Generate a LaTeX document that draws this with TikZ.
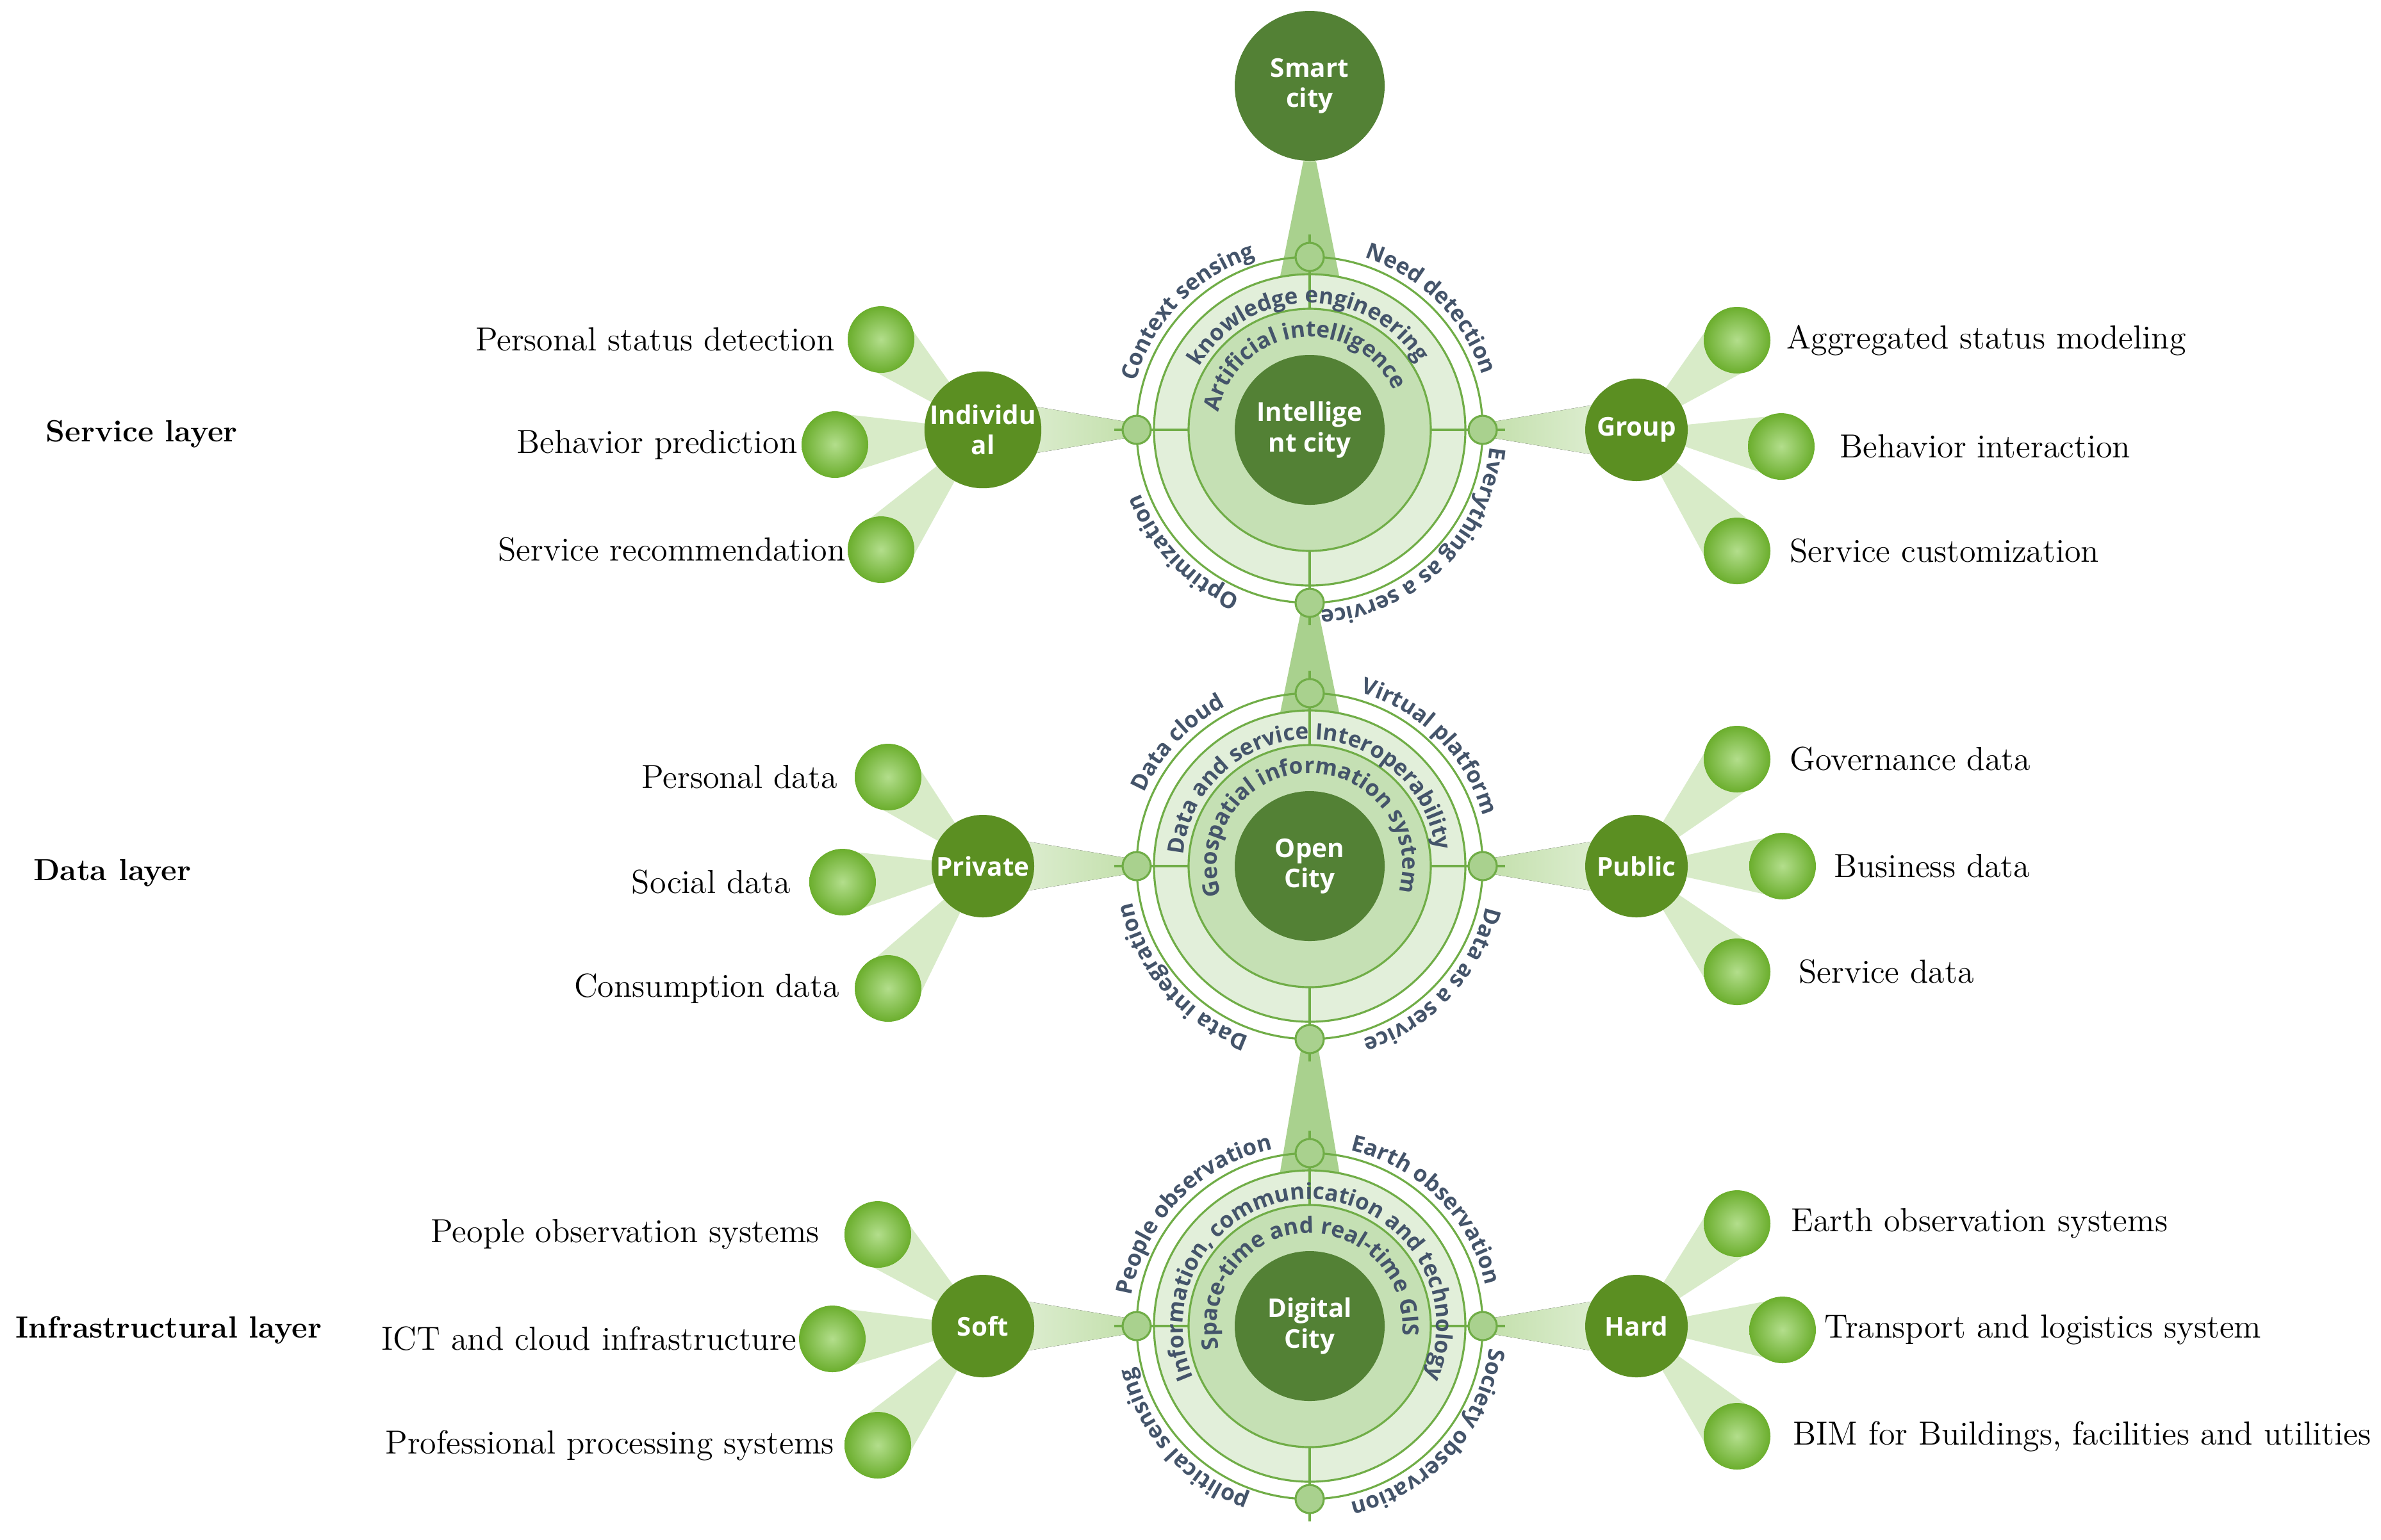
\documentclass[tikz,border=0pt]{standalone}
\usepackage{fontspec}
\newfontfamily\opensans{Open Sans}
\usetikzlibrary{positioning,calc,decorations.text}

\definecolor{coregreen}{HTML}{538135}
\definecolor{branchgreen}{HTML}{5B8F22}
\definecolor{ballin}{HTML}{B3DE8C}
\definecolor{ballout}{HTML}{6BAE2D}
\definecolor{lightring}{HTML}{E2EFDA}
\definecolor{midring}{HTML}{C5E0B4}
\definecolor{ringgreen}{HTML}{70AD47}
\definecolor{knotgreen}{HTML}{A9D18E}
\definecolor{wedgelight}{HTML}{E6F2DD}
\definecolor{wedgedark}{HTML}{C2DFAA}
\definecolor{fanfill}{HTML}{D8EBC8}
\definecolor{textnavy}{HTML}{44546A}

\newcommand{\arcfont}{\opensans\bfseries\fontsize{10}{12}\selectfont\color{textnavy}}

\pgfdeclarelayer{back}
\pgfdeclarelayer{mid}
\pgfsetlayers{back,mid,main}

\begin{document}
\begin{tikzpicture}[node distance=1cm]
	\tikzstyle{core}=[circle, fill=coregreen, text=white, font=\opensans\bfseries\fontsize{11.5}{13.5}\selectfont, minimum size=2.34cm, inner sep=0pt, align=center]
	\tikzstyle{branch}=[circle, fill=branchgreen, text=white, font=\opensans\bfseries\fontsize{11.5}{13.5}\selectfont, minimum size=1.6cm, inner sep=0pt, align=center, on grid]
	\tikzstyle{ball}=[circle, inner color=ballin, outer color=ballout, minimum size=1.04cm, inner sep=0pt, on grid]
	\tikzstyle{knot}=[circle, fill=knotgreen, draw=ringgreen, line width=0.9pt, minimum size=0.44cm, inner sep=0pt, on grid]
	\tikzstyle{ring}=[draw=ringgreen, line width=0.9pt]
	\tikzstyle{item}=[font=\fontsize{14.8}{17}\selectfont, inner sep=0pt]
	\tikzstyle{layer}=[font=\bfseries\fontsize{13.6}{16}\selectfont, anchor=west, inner sep=0pt]
	\tikzstyle{arcword}=[decorate, decoration={text along path, text align=center}]
	\tikzstyle{fan}=[fill=fanfill]
	\tikzstyle{vwedge}=[fill=knotgreen]
	\tikzstyle{lwedge}=[left color=wedgelight, right color=wedgedark]
	\tikzstyle{rwedge}=[left color=wedgedark, right color=wedgelight]
	
	\useasboundingbox (0,0) rectangle (37.16,-24.03);
	
	% the three cities and the smart city on top
	\node[core] (h_1) at (20.44,-6.71) {Intellige\\nt city};
	\node[core] (h_2) at (20.44,-13.52) {Open\\City};
	\node[core] (h_3) at (20.44,-20.70) {Digital\\City};
	\node[core, on grid] (sc) [above=5.37cm of h_1] {Smart\\city};
	
	\foreach \h in {h_1,h_2,h_3} {
		\node[knot] (\h-t) [above=2.7cm of \h] {};
		\node[knot] (\h-b) [below=2.7cm of \h] {};
		\node[knot] (\h-l) [left=2.7cm of \h] {};
		\node[knot] (\h-r) [right=2.7cm of \h] {};
		\begin{pgfonlayer}{mid}
			\draw[ring, fill=lightring] (\h) circle[radius=2.43];
			\draw[ring, fill=midring] (\h) circle[radius=1.89];
			\foreach \a in {0,90,180,270}
				\draw[ring] ($(\h)+(\a:1.89)$) -- ($(\h)+(\a:3.05)$);
		\end{pgfonlayer}
	}
	
	% branches
	\node[branch] (ind)  [left=5.1cm of h_1]  {Individu\\al};
	\node[branch] (grp)  [right=5.1cm of h_1] {Group};
	\node[branch] (prv)  [left=5.1cm of h_2]  {Private};
	\node[branch] (pub)  [right=5.1cm of h_2] {Public};
	\node[branch] (soft) [left=5.1cm of h_3]  {Soft};
	\node[branch] (hard) [right=5.1cm of h_3] {Hard};
	
	\node[ball] (ind_1)  [above left=1.41cm and 1.59cm of ind]   {};
	\node[ball] (ind_2)  [below left=0.23cm and 2.31cm of ind]   {};
	\node[ball] (ind_3)  [below left=1.87cm and 1.59cm of ind]   {};
	\node[ball] (grp_1)  [above right=1.40cm and 1.57cm of grp]  {};
	\node[ball] (grp_2)  [below right=0.26cm and 2.26cm of grp]  {};
	\node[ball] (grp_3)  [below right=1.89cm and 1.57cm of grp]  {};
	\node[ball] (prv_1)  [above left=1.39cm and 1.48cm of prv]   {};
	\node[ball] (prv_2)  [below left=0.25cm and 2.19cm of prv]   {};
	\node[ball] (prv_3)  [below left=1.91cm and 1.48cm of prv]   {};
	\node[ball] (pub_1)  [above right=1.67cm and 1.57cm of pub]  {};
	\node[ball] (pub_2)  [right=2.28cm of pub]                   {};
	\node[ball] (pub_3)  [below right=1.65cm and 1.57cm of pub]  {};
	\node[ball] (soft_1) [above left=1.43cm and 1.64cm of soft]  {};
	\node[ball] (soft_2) [below left=0.20cm and 2.35cm of soft]  {};
	\node[ball] (soft_3) [below left=1.86cm and 1.64cm of soft]  {};
	\node[ball] (hard_1) [above right=1.60cm and 1.57cm of hard] {};
	\node[ball] (hard_2) [below right=0.06cm and 2.28cm of hard] {};
	\node[ball] (hard_3) [below right=1.72cm and 1.57cm of hard] {};
	
	% item labels
	\node[item] (ind_1t)  [left=0.19cm of ind_1]   {Personal status detection};
	\node[item] (ind_2t)  [left=0.05cm of ind_2]   {Behavior prediction};
	\node[item] (ind_3t)  [left=0.02cm of ind_3]   {Service recommendation};
	\node[item] (grp_1t)  [right=0.24cm of grp_1]  {Aggregated status modeling};
	\node[item] (grp_2t)  [right=0.38cm of grp_2]  {Behavior interaction};
	\node[item] (grp_3t)  [right=0.29cm of grp_3]  {Service customization};
	\node[item] (prv_1t)  [left=0.26cm of prv_1]   {Personal data};
	\node[item] (prv_2t)  [left=0.28cm of prv_2]   {Social data};
	\node[item] (prv_3t)  [left=0.23cm of prv_3]   {Consumption data};
	\node[item] (pub_1t)  [right=0.29cm of pub_1]  {Governance data};
	\node[item] (pub_2t)  [right=0.27cm of pub_2]  {Business data};
	\node[item] (pub_3t)  [right=0.43cm of pub_3]  {Service data};
	\node[item] (soft_1t) [left=0.38cm of soft_1]  {People observation systems};
	\node[item] (soft_2t) [left=0.02cm of soft_2]  {ICT and cloud infrastructure};
	\node[item] (soft_3t) [left=0.15cm of soft_3]  {Professional processing systems};
	\node[item] (hard_1t) [right=0.31cm of hard_1] {Earth observation systems};
	\node[item] (hard_2t) [right=0.12cm of hard_2] {Transport and logistics system};
	\node[item] (hard_3t) [right=0.34cm of hard_3] {BIM for Buildings, facilities and utilities};
	
	\node[layer] (lay_1) at (0.71,-6.78)  {Service layer};
	\node[layer] (lay_2) at (0.52,-13.63) {Data layer};
	\node[layer] (lay_3) at (0.24,-20.76) {Infrastructural layer};
	
	% words round the rings
	\path[arcword, decoration={text={|\arcfont|Context sensing}}] ($(h_1)+(201:2.82)$) arc[start angle=201, end angle=71, radius=2.82];
	\path[arcword, decoration={text={|\arcfont|Need detection}}] ($(h_1)+(110:2.82)$) arc[start angle=110, end angle=-20, radius=2.82];
	\path[arcword, decoration={text={|\arcfont|Everything as a service}}] ($(h_1)+(19:2.82)$) arc[start angle=19, end angle=-111, radius=2.82];
	\path[arcword, decoration={text={|\arcfont|Optimization}}] ($(h_1)+(-71:2.82)$) arc[start angle=-71, end angle=-201, radius=2.82];
	\path[arcword, decoration={text={|\arcfont|knowledge engineering}}] ($(h_1)+(221:1.98)$) arc[start angle=221, end angle=-39, radius=1.98];
	\path[arcword, decoration={text={|\arcfont|Artificial intelligence}}] ($(h_1)+(227:1.45)$) arc[start angle=227, end angle=-33, radius=1.45];
	
	\path[arcword, decoration={text={|\arcfont|Data cloud}}] ($(h_2)+(202:2.82)$) arc[start angle=202, end angle=72, radius=2.82];
	\path[arcword, decoration={text={|\arcfont|Virtual platform}}] ($(h_2)+(110:2.82)$) arc[start angle=110, end angle=-20, radius=2.82];
	\path[arcword, decoration={text={|\arcfont|Data as a service}}] ($(h_2)+(22:2.82)$) arc[start angle=22, end angle=-108, radius=2.82];
	\path[arcword, decoration={text={|\arcfont|Data integration}}] ($(h_2)+(-74:2.82)$) arc[start angle=-74, end angle=-204, radius=2.82];
	\path[arcword, decoration={text={|\arcfont|Data and service Interoperability}}] ($(h_2)+(221:1.98)$) arc[start angle=221, end angle=-39, radius=1.98];
	\path[arcword, decoration={text={|\arcfont|Geospatial information system}}] ($(h_2)+(221:1.45)$) arc[start angle=221, end angle=-39, radius=1.45];
	
	\path[arcword, decoration={text={|\arcfont|People observation}}] ($(h_3)+(201:2.82)$) arc[start angle=201, end angle=71, radius=2.82];
	\path[arcword, decoration={text={|\arcfont|Earth observation}}] ($(h_3)+(110:2.82)$) arc[start angle=110, end angle=-20, radius=2.82];
	\path[arcword, decoration={text={|\arcfont|Society observation}}] ($(h_3)+(23:2.82)$) arc[start angle=23, end angle=-107, radius=2.82];
	\path[arcword, decoration={text={|\arcfont|political sensing}}] ($(h_3)+(-73:2.82)$) arc[start angle=-73, end angle=-203, radius=2.82];
	\path[arcword, decoration={text={|\arcfont|Information, communication and technology}}] ($(h_3)+(220:1.98)$) arc[start angle=220, end angle=-40, radius=1.98];
	\path[arcword, decoration={text={|\arcfont|Space-time and real-time GIS}}] ($(h_3)+(224:1.45)$) arc[start angle=224, end angle=-36, radius=1.45];
	
	% wedges, fans and outer rings behind everything
	\begin{pgfonlayer}{back}
		\fill[vwedge] ($(sc.south)+(-0.1,0)$) -- ($(h_1-t)+(-0.48,-0.4)$) -- ($(h_1-t)+(0.48,-0.4)$) -- ($(sc.south)+(0.1,0)$) -- cycle;
		\fill[vwedge] ($(h_1-b)+(-0.11,0)$) -- ($(h_2-t)+(-0.48,-0.4)$) -- ($(h_2-t)+(0.48,-0.4)$) -- ($(h_1-b)+(0.11,0)$) -- cycle;
		\fill[vwedge] ($(h_2-b)+(-0.11,0)$) -- ($(h_3-t)+(-0.48,-0.4)$) -- ($(h_3-t)+(0.48,-0.4)$) -- ($(h_2-b)+(0.11,0)$) -- cycle;
		\fill[lwedge] ($(h_1-l)+(0,0.1)$) -- ($(ind)+(0,0.5)$) -- ($(ind)+(0,-0.5)$) -- ($(h_1-l)+(0,-0.1)$) -- cycle;
		\fill[rwedge] ($(h_1-r)+(0,0.1)$) -- ($(grp)+(0,0.5)$) -- ($(grp)+(0,-0.5)$) -- ($(h_1-r)+(0,-0.1)$) -- cycle;
		\fill[lwedge] ($(h_2-l)+(0,0.1)$) -- ($(prv)+(0,0.5)$) -- ($(prv)+(0,-0.5)$) -- ($(h_2-l)+(0,-0.1)$) -- cycle;
		\fill[rwedge] ($(h_2-r)+(0,0.1)$) -- ($(pub)+(0,0.5)$) -- ($(pub)+(0,-0.5)$) -- ($(h_2-r)+(0,-0.1)$) -- cycle;
		\fill[lwedge] ($(h_3-l)+(0,0.1)$) -- ($(soft)+(0,0.5)$) -- ($(soft)+(0,-0.5)$) -- ($(h_3-l)+(0,-0.1)$) -- cycle;
		\fill[rwedge] ($(h_3-r)+(0,0.1)$) -- ($(hard)+(0,0.5)$) -- ($(hard)+(0,-0.5)$) -- ($(h_3-r)+(0,-0.1)$) -- cycle;
		\foreach \b/\n in {ind_1/ind,ind_2/ind,ind_3/ind,grp_1/grp,grp_2/grp,grp_3/grp,
				prv_1/prv,prv_2/prv,prv_3/prv,pub_1/pub,pub_2/pub,pub_3/pub,
				soft_1/soft,soft_2/soft,soft_3/soft,hard_1/hard,hard_2/hard,hard_3/hard}
			\fill[fan] ($(\b)!0.5cm!90:(\n)$) -- ($(\b)!0.5cm!-90:(\n)$) -- (\n.center) -- cycle;
		\foreach \h in {h_1,h_2,h_3}
			\draw[ring] (\h) circle[radius=2.7];
	\end{pgfonlayer}
\end{tikzpicture}
\end{document}
